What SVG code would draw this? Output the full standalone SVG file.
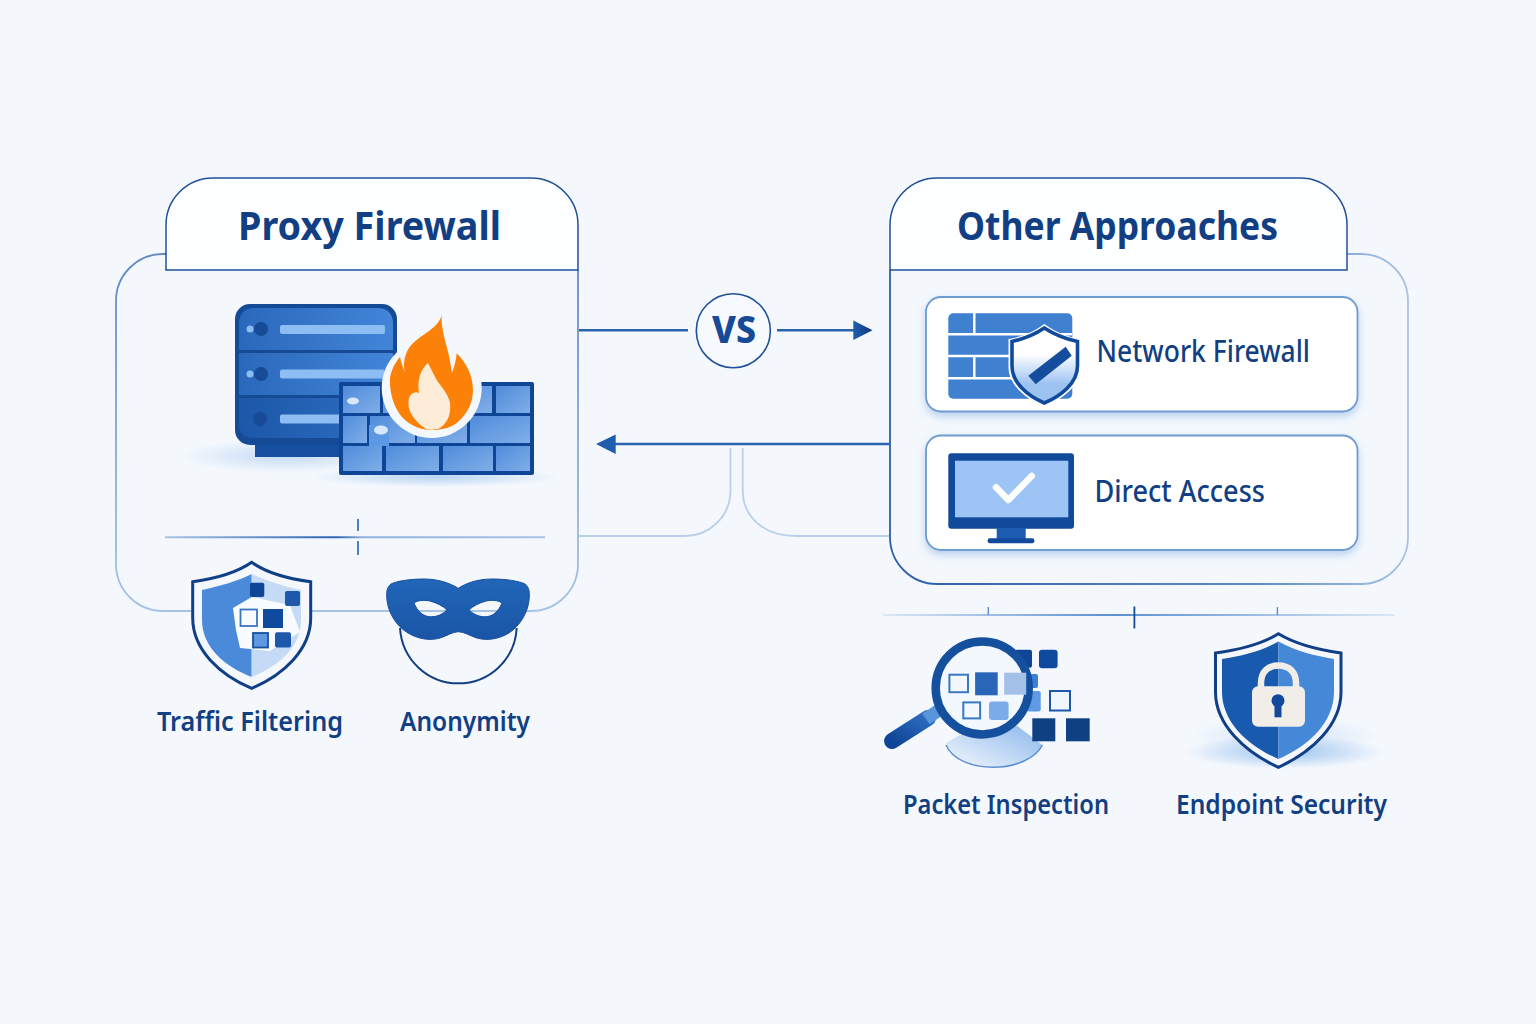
<svg xmlns="http://www.w3.org/2000/svg" width="1536" height="1024" viewBox="0 0 1536 1024">
<style>
text{font-family:"Noto Sans","Open Sans","Liberation Sans",sans-serif;fill:#123f83}
.title{font-size:39px;font-weight:700}
.lab{font-size:27px;font-weight:600}
.cardlab{font-size:30px;font-weight:500}
.conn{fill:none;stroke:#2a62ad;stroke-width:2.4}
.soft{fill:none;stroke:#b9cfeb;stroke-width:1.8}
.card{fill:#fff;stroke:#6f9ad2;stroke-width:1.8;filter:url(#cardshadow)}
.brick{fill:url(#brick)}
</style>
<defs>
<filter id="cardshadow" x="-5%" y="-10%" width="110%" height="125%"><feDropShadow dx="0" dy="4" stdDeviation="4" flood-color="#5f95d8" flood-opacity=".4"/></filter>
<linearGradient id="unit" x1="0" x2="1" y1="0" y2="0"><stop offset="0" stop-color="#2a68bb"/><stop offset="1" stop-color="#4285d8"/></linearGradient>
<linearGradient id="unit2" x1="0" x2="1" y1="0" y2="0"><stop offset="0" stop-color="#1c57a8"/><stop offset="1" stop-color="#2f6fc4"/></linearGradient>
<linearGradient id="brick" x1="0" x2="1" y1="0" y2="1"><stop offset="0" stop-color="#4f8cdb"/><stop offset="1" stop-color="#80aee8"/></linearGradient>
<linearGradient id="leftline" x1="0" x2="0" y1="0" y2="1"><stop offset="0" stop-color="#5f88c4"/><stop offset="1" stop-color="#a9c3e6"/></linearGradient>
<linearGradient id="rightline" x1="0" x2="1" y1="0" y2="0"><stop offset="0" stop-color="#2c5ea8"/><stop offset=".7" stop-color="#5d8ac8"/><stop offset="1" stop-color="#a9c3e6"/></linearGradient>
<linearGradient id="ldiv" gradientUnits="userSpaceOnUse" x1="165" x2="545" y1="0" y2="0"><stop offset="0" stop-color="#a9c3e6"/><stop offset=".45" stop-color="#2c64b0"/><stop offset=".52" stop-color="#8fb0de"/><stop offset="1" stop-color="#a9c3e6"/></linearGradient>
<linearGradient id="rdiv" gradientUnits="userSpaceOnUse" x1="883" x2="1395" y1="0" y2="0"><stop offset="0" stop-color="#dbe8f7"/><stop offset=".45" stop-color="#5d8fd0"/><stop offset="1" stop-color="#dbe8f7"/></linearGradient>
<linearGradient id="mask" x1="0" x2="0" y1="0" y2="1"><stop offset="0" stop-color="#2166b9"/><stop offset="1" stop-color="#1a55a6"/></linearGradient>
<linearGradient id="slight" x1="0" x2="0" y1="0" y2="1"><stop offset=".35" stop-color="#fff"/><stop offset=".75" stop-color="#9cc2f2"/></linearGradient>
<linearGradient id="handle" x1="1" x2="0" y1="0" y2="1"><stop offset="0" stop-color="#2d6cc0"/><stop offset="1" stop-color="#0f4596"/></linearGradient>
<radialGradient id="shad"><stop offset="0" stop-color="#7fb0ea" stop-opacity=".75"/><stop offset="1" stop-color="#7fb0ea" stop-opacity="0"/></radialGradient>
<linearGradient id="arrowA" x1="0" x2="1" y1="0" y2="0"><stop offset="0" stop-color="#1f5cae"/><stop offset="1" stop-color="#10397f"/></linearGradient>
<linearGradient id="bowl" x1="1" x2="0" y1="0" y2="1"><stop offset="0" stop-color="#86b4ec"/><stop offset="1" stop-color="#f4f8fd"/></linearGradient>
</defs>
<rect width="1536" height="1024" fill="#f4f8fd"/>

<g id="connectors">
<path class="conn" d="M579 330.300H688M777 330.300H855"/>
<path d="M853.300 320.500L872.500 330.300L853.300 340Z" fill="url(#arrowA)"/>
<path class="conn" d="M889 444H614"/>
<path d="M596 444L615.700 434.500V454Z" fill="#1f5cae"/>
<path class="soft" d="M730.500 448V490C730.500 518 708 536 685 536H579"/>
<path class="soft" d="M742.700 448V490C742.700 518 765 536 796 536H889"/>
</g>

<g id="panel-proxy">
<path d="M166 254H163C137 254 116 275 116 301V564C116 590 137 611 163 611H531C557 611 578 590 578 564V270" fill="none" stroke="url(#leftline)" stroke-width="1.800"/>
<path d="M166 270V225C166 199 187 178 213 178H531C557 178 578 199 578 225V270Z" fill="#fdfeff" stroke="#1f5098" stroke-width="1.500"/>
<text class="title" x="369.500" y="240" text-anchor="middle" textLength="263" lengthAdjust="spacingAndGlyphs">Proxy Firewall</text>
<path d="M165 537.300H545" stroke="url(#ldiv)" stroke-width="2" fill="none"/>
<path d="M358 519V531M358 541V555" stroke="#3d72b8" stroke-width="1.800"/>
</g>

<g id="panel-other">
<path d="M890 270V537C890 563 911 584 937 584H1361C1387 584 1408 563 1408 537V301C1408 275 1387 254 1361 254H1347" fill="none" stroke="url(#rightline)" stroke-width="1.800"/>
<path d="M890 270V225C890 199 911 178 937 178H1300C1326 178 1347 199 1347 225V270Z" fill="#fdfeff" stroke="#1f5098" stroke-width="1.500"/>
<text class="title" x="1117.500" y="240" text-anchor="middle" textLength="321" lengthAdjust="spacingAndGlyphs">Other Approaches</text>
</g>

<g id="vs">
<circle cx="733.300" cy="330.700" r="37" fill="#f6f9fe" stroke="#1f5098" stroke-width="1.600"/>
<text x="734" y="343" text-anchor="middle" font-size="37" font-weight="800" style="fill:#174a96" textLength="44" lengthAdjust="spacingAndGlyphs">VS</text>
</g>

<g id="proxy-firewall-icon">
<ellipse cx="285" cy="456" rx="105" ry="17" fill="url(#shad)" opacity=".55"/>
<ellipse cx="435" cy="477" rx="125" ry="10" fill="url(#shad)" opacity=".7"/>
<rect x="255" y="440" width="100" height="17" fill="#17509f"/>
<rect x="235" y="304" width="162" height="141" rx="15" fill="#154a97"/>
<path d="M239 350V323C239 314 245 308 254 308H378C387 308 393 314 393 323V350Z" fill="url(#unit)"/>
<rect x="239" y="353" width="154" height="42" fill="url(#unit)"/>
<path d="M239 398H393V425C393 433 387 438 379 438H252C244 438 239 433 239 425Z" fill="url(#unit2)"/>
<circle cx="261" cy="329" r="7" fill="#174a97"/><circle cx="250" cy="329" r="3.500" fill="#8dbdf3"/>
<circle cx="261" cy="374" r="7" fill="#174a97"/><circle cx="250" cy="374" r="3.500" fill="#8dbdf3"/>
<circle cx="260" cy="419" r="7" fill="#174a97"/>
<rect x="280" y="325" width="105" height="9" rx="2" fill="#8dbdf3"/>
<rect x="280" y="369.500" width="105" height="9" rx="2" fill="#8dbdf3"/>
<rect x="280" y="414.500" width="105" height="9" rx="2" fill="#8dbdf3"/>
<rect x="339" y="382" width="195" height="93" rx="2" fill="#0f4596"/>
<rect class="brick" x="343" y="386" width="37" height="27"/>
<rect class="brick" x="383" y="386" width="50" height="27"/>
<rect class="brick" x="436" y="386" width="56" height="27"/>
<rect class="brick" x="496" y="386" width="34" height="27"/>
<rect class="brick" x="343" y="416" width="24" height="27"/>
<rect class="brick" x="370" y="416" width="45" height="27"/>
<rect class="brick" x="417" y="416" width="50" height="27"/>
<rect class="brick" x="470" y="416" width="60" height="27"/>
<rect class="brick" x="343" y="446" width="39" height="25"/>
<rect class="brick" x="386" y="446" width="53" height="25"/>
<rect class="brick" x="443" y="446" width="50" height="25"/>
<rect class="brick" x="496" y="446" width="34" height="25"/>
<rect x="369" y="425" width="20" height="21" fill="#5d98e2"/>
<ellipse cx="353" cy="401" rx="6" ry="3.500" fill="#d8e8fa"/>
<ellipse cx="381" cy="430" rx="7" ry="4.500" fill="#d8e8fa"/>
<circle cx="431.700" cy="388" r="50" fill="#f4f8fd"/>
<path d="M441.700 315C438 330 418 335 409 348C404 356 403 365 405 373C403 367 401 362 400 356.700C392 367 389 376 390 385C391 399 396 412 405 420C413 427 423 430 431.700 430C441 430 451 428 458 422C467 414 473 403 473 390C473 376 466 362 456.700 353.300C456 361 454 368 451.700 373.300C451 364 449 355 446.700 346.700C444 336 441 326 441.700 315Z" fill="#fb8108"/>
<path d="M428 363C420 370 417 380 419 393C415 391 411 393 409 398C406 410 414 421 426 429C429 430 436 430 440 428C449 422 451 412 450 403C448 392 438 384 434 375C432 371 430 367 428 363Z" fill="#fdecd8"/>
</g>

<g id="traffic-filtering">
<path d="M251.700 562.300C235 574 213 579 192.700 581.700V618C192.700 650 220 675 251.700 688.300C283 675 310.700 650 310.700 618V581.700C290 579 268 574 251.700 562.300Z" fill="#f4f8fd" stroke="#113f87" stroke-width="3"/>
<path d="M251.700 574C238 581 220 586 202 590V620C202 648 226 667 251.700 677Z" fill="#4a8ad9"/>
<path d="M251.700 574C266 581 283 586 301 590V620C301 648 277 667 251.700 677Z" fill="#c5daf4"/>
<path d="M233 608L251.700 597L290 605L300 632L270 651L240 648L236 630Z" fill="#f8fbff"/>
<rect x="250" y="582.700" width="14.300" height="14.300" rx="2" fill="#0f4596"/>
<rect x="285" y="591" width="15" height="15" rx="2" fill="#1d58ab"/>
<rect x="240.500" y="609.500" width="16.500" height="16.500" fill="#f8fbff" stroke="#3a75bf" stroke-width="1.800"/>
<rect x="263" y="609" width="20" height="19" fill="#0f4a9e"/>
<rect x="253" y="633" width="15" height="14.500" fill="#5f98e0" stroke="#17509f" stroke-width="1.800"/>
<rect x="275" y="632.300" width="16" height="15.300" rx="2" fill="#1d58ab"/>
<text class="lab" x="250" y="731" text-anchor="middle" textLength="186" lengthAdjust="spacingAndGlyphs">Traffic Filtering</text>
</g>

<g id="anonymity">
<path d="M400 628C402 660 428 683.300 458.300 683.300C489 683.300 515 660 516.700 628" fill="#f4f8fd" stroke="#123f83" stroke-width="2"/>
<path fill-rule="evenodd" d="M458.300 588.300C448 582 436 579 424 579C410 579 397 581 391 584C387 587 386 592 387 600C388 612 396 626 408 633C418 639 430 641 440 638C447 636 452 632 458.300 631.700C465 632 470 636 477 638C487 641 499 639 509 633C520 626 528 612 529 600C530 592 529 587 525 584C519 581 506 579 492 579C480 579 468 582 458.300 588.300ZM414 603C418 600 424 600 430 601C437 603 443 606 447 610C441 616 433 618 426 616C420 614 416 608 414 603ZM502 603C498 600 492 600 486 601C479 603 473 606 469 610C475 616 483 618 490 616C496 614 500 608 502 603Z" fill="url(#mask)" stroke="#174f9f" stroke-width="1"/>
<text class="lab" x="465" y="731" text-anchor="middle" textLength="130" lengthAdjust="spacingAndGlyphs">Anonymity</text>
</g>

<g id="network-firewall">
<rect class="card" x="926" y="297" width="431.500" height="114.500" rx="15"/>
<rect x="948.300" y="313.300" width="124" height="85.400" rx="5" fill="#3f80d0"/>
<path d="M948 334.300H1072M948 356H1072M948 378.300H1072M974.300 313V334.300M974.300 356V378.300" stroke="#fff" stroke-width="2.400" fill="none"/>
<path d="M1044.300 324C1034 332 1021 337 1008.500 339V367C1008.500 385 1026 399 1044.300 407C1063 399 1081 385 1081 367V339C1068 337 1055 332 1044.300 324Z" fill="#fff"/>
<path d="M1044.300 328C1034 335 1023 339 1012 341.500V366C1012 383 1028 396 1044.300 403C1061 396 1077.500 383 1077.500 366V341.500C1066 339 1055 335 1044.300 328Z" fill="url(#slight)" stroke="#124a9b" stroke-width="3.600"/>
<path d="M1065.700 346.700L1071.700 355.700L1035.700 384.300L1028.300 375.700Z" fill="#154d9e"/>
<text class="cardlab" x="1096.500" y="362" textLength="213.500" lengthAdjust="spacingAndGlyphs">Network Firewall</text>
</g>

<g id="direct-access">
<rect class="card" x="926" y="435.500" width="431.500" height="114.500" rx="15"/>
<rect x="948.300" y="453.300" width="125.700" height="75.400" rx="3" fill="#124a9b"/>
<rect x="955" y="460.700" width="113.300" height="56.600" fill="#9cc4f5"/>
<rect x="996.700" y="528" width="29" height="11" fill="#1b5cb0"/>
<rect x="987.700" y="538.300" width="46.600" height="5" rx="2" fill="#124a9b"/>
<path d="M996 487.300L1008.300 500L1031.700 476" fill="none" stroke="#fff" stroke-width="6.500" stroke-linecap="round" stroke-linejoin="round"/>
<text class="cardlab" x="1094.500" y="502" textLength="170.500" lengthAdjust="spacingAndGlyphs">Direct Access</text>
</g>

<g id="right-divider">
<path d="M883 615H1395" stroke="url(#rdiv)" stroke-width="2" fill="none"/>
<path d="M988.300 607V615M1277.400 607V615" stroke="#5d8fd0" stroke-width="1.400"/>
<path d="M1134.400 606.500V628.500" stroke="#174a96" stroke-width="1.800"/>
</g>

<g id="packet-inspection">
<path d="M946 743C950 758 970 767.300 993.400 767.300C1017 767.300 1037 758 1042.400 745L1012 722L960 735Z" fill="url(#bowl)"/>
<path d="M946 745C952 759 971 767.300 993.400 767.300C1016 767.300 1036 758 1042.400 745" fill="none" stroke="#5d8fd0" stroke-width="1.500"/>
<rect x="1015" y="649.700" width="17" height="18" rx="2" fill="#0f4596"/>
<rect x="1039" y="649.700" width="18.600" height="18.600" rx="3" fill="#0f4a9e"/>
<rect x="1027" y="674" width="11" height="14" rx="2" fill="#3d80d6"/>
<rect x="1027" y="691" width="13.700" height="20.500" rx="2" fill="#5f9ae3"/>
<rect x="1050" y="691" width="20" height="19.500" fill="#f0f6fd" stroke="#1d58ab" stroke-width="2"/>
<rect x="1032.300" y="718.300" width="23" height="23" fill="#0f4082"/>
<rect x="1066" y="718.300" width="23.700" height="23" fill="#0f4082"/>
<path d="M928 718L892 741" stroke="url(#handle)" stroke-width="16" stroke-linecap="round" fill="none"/>
<path d="M926 719L942 708" stroke="#5a94dd" stroke-width="13" fill="none"/>
<circle cx="982.200" cy="687.900" r="46.500" fill="#f3f8fe" stroke="#15509f" stroke-width="8.500"/>
<rect x="949.400" y="674.700" width="18.600" height="17.500" fill="#f3f8fe" stroke="#3a78c4" stroke-width="2"/>
<rect x="975.100" y="672.300" width="22.600" height="23" fill="#2a66b8"/>
<rect x="1004.200" y="672.700" width="22" height="22" fill="#a2c0e8"/>
<rect x="963.300" y="702.400" width="16.800" height="16" fill="#f3f8fe" stroke="#3a78c4" stroke-width="2"/>
<rect x="989" y="701.400" width="19.600" height="18.600" rx="3" fill="#7babe8"/>
<text class="lab" x="1006" y="814" text-anchor="middle" textLength="206" lengthAdjust="spacingAndGlyphs">Packet Inspection</text>
</g>

<g id="endpoint-security">
<ellipse cx="1285" cy="752" rx="100" ry="17" fill="url(#shad)"/>
<ellipse cx="1285" cy="735" rx="95" ry="18" fill="url(#shad)" opacity=".4"/>
<path d="M1278.400 633.800C1260 645 1238 650 1215.500 653V692C1215.500 725 1245 752 1278.400 767.300C1312 752 1341 725 1341 692V653C1319 650 1297 645 1278.400 633.800Z" fill="#f4f8fd" stroke="#113f87" stroke-width="3"/>
<path d="M1278.400 641.500C1262 651 1241 656 1222 659V692C1222 722 1248 746 1278.400 759Z" fill="#185aad"/>
<path d="M1278.400 641.500C1295 651 1316 656 1334 659V692C1334 722 1309 746 1278.400 759Z" fill="#4688d8"/>
<path d="M1261 688V683C1261 672 1268 665.500 1278.400 665.500C1289 665.500 1296 672 1296 683V688" fill="none" stroke="#f1eeea" stroke-width="6.500"/>
<rect x="1252" y="686.200" width="53" height="40.600" rx="6" fill="#f1eeea"/>
<circle cx="1278" cy="700.700" r="6.500" fill="#124a9b"/>
<rect x="1274.500" y="702" width="7" height="15.300" fill="#124a9b"/>
<text class="lab" x="1281.500" y="814" text-anchor="middle" textLength="211" lengthAdjust="spacingAndGlyphs">Endpoint Security</text>
</g>
</svg>
